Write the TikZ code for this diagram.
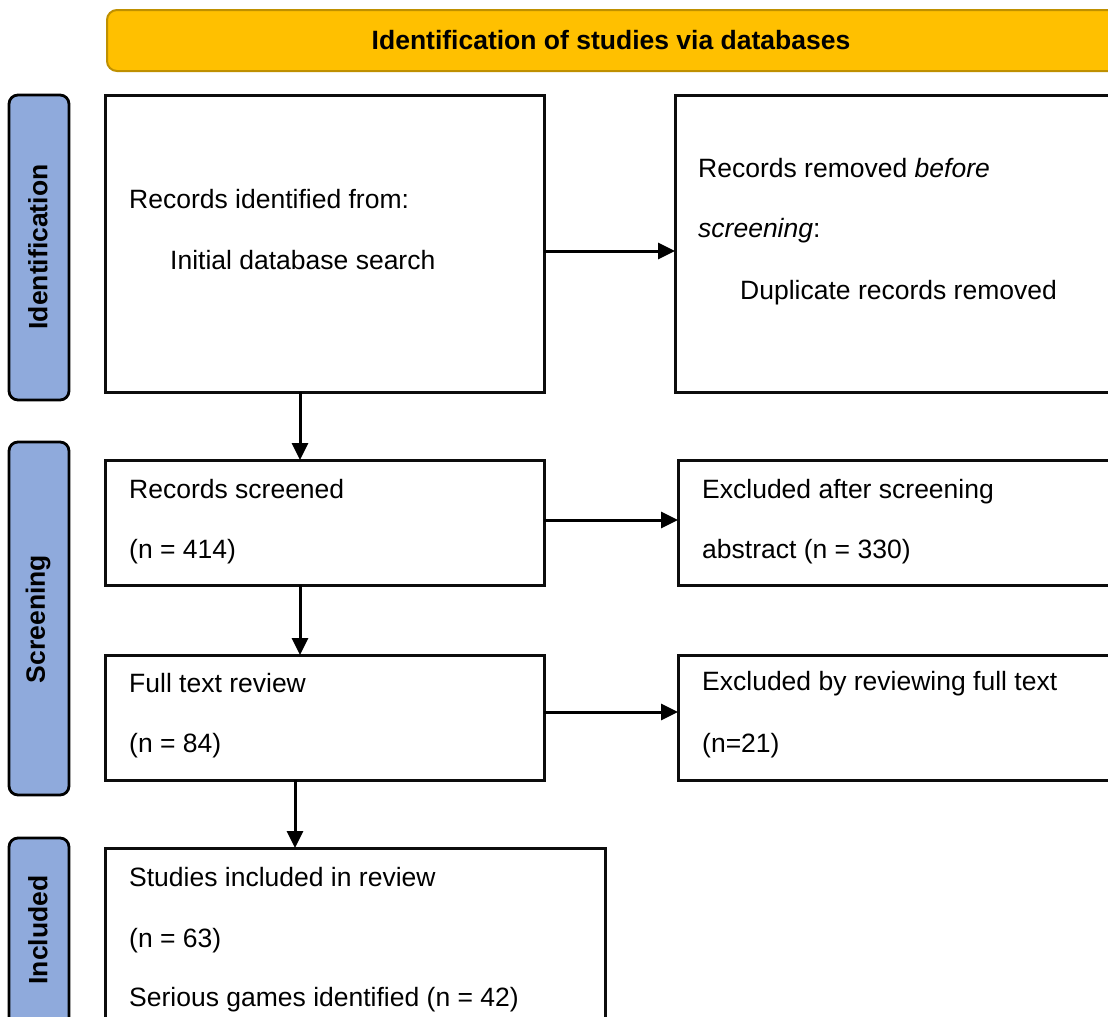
\documentclass[tikz,border=0pt]{standalone}
\usepackage{fontspec}
\setmainfont{Liberation Sans}
\usetikzlibrary{arrows.meta}
\definecolor{bannerfill}{HTML}{FFC000}
\definecolor{bannerdraw}{HTML}{BF9000}
\definecolor{sidefill}{HTML}{8FAADC}
\definecolor{boxline}{HTML}{0D0D0D}
\tikzset{
  txt/.style={anchor=base west, inner sep=0pt, font=\fontsize{26.5}{32}\selectfont},
  stepbox/.style={draw=boxline, line width=3pt, fill=white, inner sep=0pt, outer sep=0pt},
  sidebox/.style={draw=black, line width=2.8pt, fill=sidefill, rounded corners=9pt, inner sep=0pt},
  sidetxt/.style={rotate=90, inner sep=0pt, font=\fontsize{26.5}{32}\selectfont\bfseries},
  arr/.style={line width=3pt, -{Triangle[length=17pt,width=16pt]}},
}
\begin{document}
\begin{tikzpicture}[x=1pt,y=-1pt]
\useasboundingbox (0,0) rectangle (1108,1017);
\clip (0,0) rectangle (1108,1017);
\fill[white] (0,0) rectangle (1108,1017);

% banner
\node[fill=bannerfill, draw=bannerdraw, line width=2pt, rounded corners=10pt,
      minimum width=1033pt, minimum height=61pt, inner sep=0pt] (bannerbox) at (623.5,40.5) {};
\node[font=\fontsize{26.5}{32}\selectfont\bfseries, inner sep=0pt] (banner) at (611,40) {Identification of studies via databases};

% side labels
\node[sidebox, minimum width=60pt, minimum height=305pt] (sid) at (39,247.5) {};
\node[sidetxt] (lid) at (38,247) {Identification};
\node[sidebox, minimum width=60pt, minimum height=353pt] (ssc) at (39,618.5) {};
\node[sidetxt] (lsc) at (38,619) {Screening};
\node[sidebox, minimum width=60pt, minimum height=212pt] (sin) at (39,944) {};
\node[sidetxt] (lin) at (38,930) {Included};

% boxes
\node[stepbox, minimum width=439pt, minimum height=297pt] (b1) at (324.5,243.5) {};
\node[stepbox, minimum width=460pt, minimum height=297pt] (b2) at (905,243.5) {};
\node[stepbox, minimum width=439pt, minimum height=125pt] (b3) at (324.5,522.5) {};
\node[stepbox, minimum width=460pt, minimum height=125pt] (b4) at (908,522.5) {};
\node[stepbox, minimum width=439pt, minimum height=125pt] (b5) at (324.5,717.5) {};
\node[stepbox, minimum width=460pt, minimum height=125pt] (b6) at (908,717.5) {};
\node[stepbox, minimum width=500pt, minimum height=200pt] (b7) at (355,948) {};

% texts
\node[txt] (t1a) at (129,208) {Records identified from:};
\node[txt] (t1b) at (170,269) {Initial database search};
\node[txt] (t2a) at (698,177) {Records removed \textit{before}};
\node[txt] (t2b) at (698,237) {\textit{screening}:};
\node[txt] (t2c) at (740,299) {Duplicate records removed};
\node[txt] (t3a) at (129,498) {Records screened};
\node[txt] (t3b) at (129,558) {(n = 414)};
\node[txt] (t4a) at (702,498) {Excluded after screening};
\node[txt] (t4b) at (702,558) {abstract (n = 330)};
\node[txt] (t5a) at (129,692) {Full text review};
\node[txt] (t5b) at (129,752) {(n = 84)};
\node[txt] (t6a) at (702,690) {Excluded by reviewing full text};
\node[txt] (t6b) at (702,752) {(n=21)};
\node[txt] (t7a) at (129,886) {Studies included in review};
\node[txt] (t7b) at (129,947) {(n = 63)};
\node[txt] (t7c) at (129,1006) {Serious games identified (n = 42)};

% connectors
\draw[arr] (b1.east |- 0,251) -- (b2.west |- 0,251);
\draw[arr] (b1.south -| 300,0) -- (b3.north -| 300,0);
\draw[arr] (b3.east |- 0,520) -- (b4.west |- 0,520);
\draw[arr] (b3.south -| 300,0) -- (b5.north -| 300,0);
\draw[arr] (b5.east |- 0,712) -- (b6.west |- 0,712);
\draw[arr] (b5.south -| 295,0) -- (b7.north -| 295,0);
\end{tikzpicture}
\end{document}
